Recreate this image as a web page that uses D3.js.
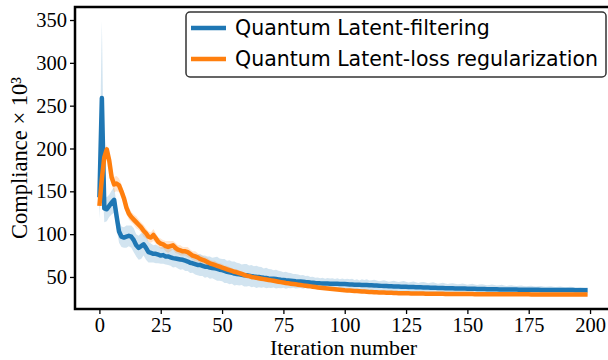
<!DOCTYPE html>
<html>
<head>
<meta charset="utf-8">
<script src="https://cdn.jsdelivr.net/npm/d3@7"></script>
<style>
  body { margin: 0; background: #fff; }
  svg { display: block; }
</style>
</head>
<body>
<div id="chart"></div>
<script>
// iteration index 0..199
const iterations = d3.range(0, 200);

const filteringMean = [
  143, 259, 130, 129, 133, 137, 140, 121, 103, 97,
  96, 97, 98, 97, 93, 87, 84, 86, 88, 84,
  79, 78, 77, 77, 76, 75, 75.5, 74, 74, 73,
  72, 71.5, 71, 70.5, 70, 69, 68, 66.5, 66, 65,
  64, 64, 63, 62, 62, 61, 60.5, 60, 59.5, 58.5,
  58, 57, 56, 55.5, 55, 54, 53.5, 53, 52.5, 52,
  52, 51.5, 51, 50.5, 50.2, 50, 49.5, 49, 48.7, 48.3,
  48, 47.8, 47.5, 47.2, 46.8, 46.5, 46.2, 46, 45.7, 45.4,
  45, 44.8, 44.6, 44.3, 44, 43.8, 43.5, 43.3, 43, 42.8,
  42.6, 42.5, 42.4, 42.3, 42.2, 42.1, 42, 42, 41.9, 41.8,
  41.7, 41.5, 41.3, 41.2, 41, 40.9, 40.8, 40.7, 40.6, 40.5,
  40.4, 40.2, 40, 39.9, 39.8, 39.6, 39.5, 39.4, 39.2, 39.1,
  39, 38.9, 38.8, 38.7, 38.6, 38.5, 38.4, 38.3, 38.2, 38.1,
  38, 37.9, 37.8, 37.7, 37.6, 37.5, 37.4, 37.3, 37.2, 37.1,
  37, 36.9, 36.9, 36.8, 36.7, 36.6, 36.6, 36.5, 36.4, 36.4,
  36.3, 36.2, 36.2, 36.1, 36, 36, 35.9, 35.9, 35.8, 35.7,
  35.7, 35.6, 35.6, 35.5, 35.5, 35.4, 35.4, 35.4, 35.3, 35.3,
  35.3, 35.2, 35.2, 35.1, 35.1, 35.1, 35, 35, 35, 35,
  34.9, 34.9, 34.9, 34.9, 34.8, 34.8, 34.8, 34.8, 34.8, 34.7,
  34.7, 34.7, 34.7, 34.7, 34.6, 34.6, 34.6, 34.6, 34.6, 34.6
];

const filteringStd = [
  25, 90, 16, 14, 13, 14, 15, 14, 13, 12,
  12, 13, 12, 13, 14, 13, 14, 15, 13, 14,
  12, 11, 10, 11, 10, 9.5, 10, 9.5, 10, 10,
  11, 10, 11, 12, 11, 12, 11, 12, 11, 12,
  12, 13, 12, 13, 12, 13, 12, 13, 14, 13,
  13, 14, 13, 14, 13, 14, 13, 13, 12, 13,
  13, 12, 13, 12, 13, 12, 12, 11, 12, 11,
  11, 10, 11, 10, 10, 9, 10, 9, 9, 8,
  8.5, 8, 7.5, 8, 7, 7.5, 6.5, 7, 6, 6.5,
  6, 6.5, 5.5, 6.5, 6, 6.5, 5.5, 6.5, 5.5, 6.5,
  5.5, 6.5, 6, 6.8, 5.5, 6.5, 5.2, 6.5, 6, 6.8,
  5.4, 6, 6.8, 6, 5.3, 6, 6.7, 6, 5.3, 6,
  6.6, 5.9, 5.2, 5.9, 6.6, 5.9, 5.2, 5.8, 6.5, 5.8,
  5.1, 5.8, 6.4, 5.7, 5, 5.7, 6.3, 5.6, 5, 5.6,
  6.2, 5.5, 4.9, 5.5, 6.1, 5.4, 4.8, 5.4, 6, 5.3,
  4.7, 5.3, 5.9, 5.2, 4.6, 5.1, 5.7, 5.1, 4.5, 5,
  5.5, 4.9, 4.4, 4.8, 5.3, 4.7, 4.2, 4.6, 5.1, 4.5,
  4.1, 4.5, 4.9, 4.4, 4, 4.3, 4.7, 4.2, 3.8, 4.1,
  4.5, 4, 3.7, 3.9, 4.3, 3.8, 3.5, 3.8, 4.1, 3.6,
  3.4, 3.6, 3.9, 3.5, 3.3, 3.5, 3.7, 3.4, 3.2, 3.3
];

const regularizationMean = [
  133, 165, 190, 199, 186, 166, 158, 159, 157, 150,
  142, 131, 124, 120, 117, 114, 111, 108, 104, 101,
  97, 96, 99, 95, 91, 89, 88, 86, 85, 86,
  87, 84, 82, 81, 80, 80, 79, 77, 75, 74,
  73, 71, 70, 69, 67.5, 66, 65, 64, 63, 62,
  61, 60, 59, 58, 57, 56, 55.5, 54.5, 53.5, 52.5,
  51.5, 51, 50, 49.5, 49, 48.5, 48, 47.5, 47, 46.5,
  46, 45.5, 45, 44.5, 44, 43.5, 43, 42.6, 42.2, 41.8,
  41.4, 41, 40.6, 40.2, 39.8, 39.4, 39, 38.6, 38.2, 37.8,
  37.5, 37.2, 36.9, 36.6, 36.3, 36, 35.7, 35.4, 35.1, 34.8,
  34.5, 34.3, 34.1, 33.9, 33.7, 33.5, 33.3, 33.1, 32.9, 32.7,
  32.5, 32.4, 32.2, 32.1, 32, 31.9, 31.8, 31.7, 31.6, 31.5,
  31.3, 31.2, 31.1, 31.1, 31, 30.9, 30.9, 30.8, 30.8, 30.7,
  30.7, 30.6, 30.6, 30.5, 30.5, 30.4, 30.4, 30.4, 30.3, 30.3,
  30.3, 30.2, 30.2, 30.2, 30.1, 30.1, 30.1, 30.1, 30, 30,
  30, 30, 30, 29.9, 29.9, 29.9, 29.9, 29.9, 29.8, 29.8,
  29.8, 29.8, 29.8, 29.8, 29.8, 29.7, 29.7, 29.7, 29.7, 29.7,
  29.7, 29.7, 29.7, 29.7, 29.7, 29.7, 29.6, 29.6, 29.6, 29.6,
  29.6, 29.6, 29.6, 29.6, 29.6, 29.6, 29.6, 29.6, 29.6, 29.6,
  29.6, 29.6, 29.6, 29.6, 29.6, 29.6, 29.6, 29.6, 29.6, 29.6
];

const regularizationStd = [
  3, 5, 6, 5, 6, 8, 9, 9, 8, 8,
  7, 7, 7, 6, 6, 7, 6, 6, 7, 6,
  6, 6, 7, 6, 5, 6, 5, 6, 7, 6,
  5, 6, 5, 6, 5, 5, 6, 5, 5, 6,
  5, 4, 5, 4, 5, 4, 4, 5, 4, 4,
  4, 3.5, 4, 3.5, 3.5, 3, 3.5, 3, 3, 3,
  3, 2.5, 3, 2.5, 2.5, 2.5, 2, 2.5, 2, 2,
  2, 2, 2, 1.8, 1.8, 1.8, 1.6, 1.6, 1.6, 1.5,
  1.5, 1.5, 1.5, 1.5, 1.4, 1.4, 1.4, 1.4, 1.4, 1.3,
  1.3, 1.3, 1.3, 1.3, 1.2, 1.2, 1.2, 1.2, 1.2, 1.2,
  1.2, 1.2, 1.1, 1.1, 1.1, 1.1, 1.1, 1.1, 1.1, 1.1,
  1.1, 1.1, 1.1, 1.1, 1.1, 1.1, 1, 1, 1, 1,
  1, 1, 1, 1, 1, 1, 1, 1, 1, 1,
  1, 1, 1, 1, 1, 1, 1, 1, 1, 1,
  1, 1, 1, 1, 1, 1, 1, 1, 1, 1,
  1, 1, 1, 1, 1, 1, 1, 1, 1, 1,
  1, 1, 1, 1, 1, 1, 1, 1, 1, 1,
  1, 1, 1, 1, 1, 1, 1, 1, 1, 1,
  1, 1, 1, 1, 1, 1, 1, 1, 1, 1,
  1, 1, 1, 1, 1, 1, 1, 1, 1, 1
];

const xTicks = [0, 25, 50, 75, 100, 125, 150, 175, 200];
const yTicks = [50, 100, 150, 200, 250, 300, 350];
const seriesNames = ['Quantum Latent-filtering', 'Quantum Latent-loss regularization'];
const colors = ['#1f77b4', '#ff7f0e'];

const width = 608;
const height = 360;
const margin = { top: 7, right: -4, bottom: 51, left: 75 };
const serif = '"Liberation Serif", "Times New Roman", serif';

const svg = d3.select('#chart').append('svg')
  .attr('width', width)
  .attr('height', height);

const x = d3.scaleLinear()
  .domain([-9.95, 208.95])
  .range([margin.left, width - margin.right]);

const y = d3.scaleLinear()
  .domain([12.6, 365.2])
  .range([height - margin.bottom, margin.top]);

const series = [
  { mean: filteringMean, std: filteringStd },
  { mean: regularizationMean, std: regularizationStd }
];

svg.append('clipPath').attr('id', 'plotclip')
  .append('rect')
  .attr('x', margin.left)
  .attr('y', margin.top)
  .attr('width', width - margin.right - margin.left)
  .attr('height', height - margin.bottom - margin.top);

const plot = svg.append('g').attr('clip-path', 'url(#plotclip)');

const band = d3.area()
  .x(function(d) { return x(d.i); })
  .y0(function(d) { return y(d.m - d.s); })
  .y1(function(d) { return y(d.m + d.s); });

const line = d3.line()
  .x(function(d) { return x(d.i); })
  .y(function(d) { return y(d.m); });

const rows = series.map(function(s) {
  return iterations.map(function(it, k) {
    return { i: it, m: s.mean[k], s: s.std[k] };
  });
});

rows.forEach(function(r, k) {
  plot.append('path')
    .datum(r)
    .attr('fill', colors[k])
    .attr('fill-opacity', 0.2)
    .attr('d', band);
});

rows.forEach(function(r, k) {
  plot.append('path')
    .datum(r)
    .attr('fill', 'none')
    .attr('stroke', colors[k])
    .attr('stroke-width', 4.5)
    .attr('stroke-linejoin', 'round')
    .attr('d', line);
});

// axes
const xAxis = svg.append('g')
  .attr('transform', 'translate(0,' + (height - margin.bottom) + ')')
  .call(d3.axisBottom(x).tickValues(xTicks).tickSize(5).tickPadding(3));

const yAxis = svg.append('g')
  .attr('transform', 'translate(' + margin.left + ',0)')
  .call(d3.axisLeft(y).tickValues(yTicks).tickSize(5).tickPadding(3));

[xAxis, yAxis].forEach(function(a) {
  a.select('.domain').remove();
  a.selectAll('.tick line').attr('stroke', '#000').attr('stroke-width', 1.3);
  a.selectAll('.tick text')
    .attr('fill', '#000')
    .style('font-family', serif)
    .style('font-size', '20.5px');
});

// frame
svg.append('rect')
  .attr('x', margin.left)
  .attr('y', margin.top)
  .attr('width', width - margin.right - margin.left)
  .attr('height', height - margin.bottom - margin.top)
  .attr('fill', 'none')
  .attr('stroke', '#000')
  .attr('stroke-width', 2.5);

svg.append('text')
  .attr('x', (margin.left + width - margin.right) / 2)
  .attr('y', 355)
  .attr('text-anchor', 'middle')
  .style('font-family', serif)
  .style('font-size', '22px')
  .text('Iteration number');

svg.append('text')
  .attr('transform', 'translate(27,' + ((margin.top + height - margin.bottom) / 2) + ') rotate(-90)')
  .attr('text-anchor', 'middle')
  .style('font-family', serif)
  .style('font-size', '22.5px')
  .text('Compliance × 10³');

// legend
const legend = svg.append('g').attr('transform', 'translate(186,12)');
legend.append('rect')
  .attr('width', 420)
  .attr('height', 65)
  .attr('rx', 4)
  .attr('fill', '#fff')
  .attr('fill-opacity', 0.8)
  .attr('stroke', '#333')
  .attr('stroke-width', 1.5);

seriesNames.forEach(function(name, k) {
  const ly = 16 + k * 31;
  legend.append('line')
    .attr('x1', 5).attr('x2', 40)
    .attr('y1', ly).attr('y2', ly)
    .attr('stroke', colors[k])
    .attr('stroke-width', 4.5);
  legend.append('text')
    .attr('x', 49)
    .attr('y', ly)
    .attr('dy', '0.35em')
    .style('font-family', '"DejaVu Sans", sans-serif')
    .style('font-size', '20.5px')
    .text(name);
});
</script>
</body>
</html>
